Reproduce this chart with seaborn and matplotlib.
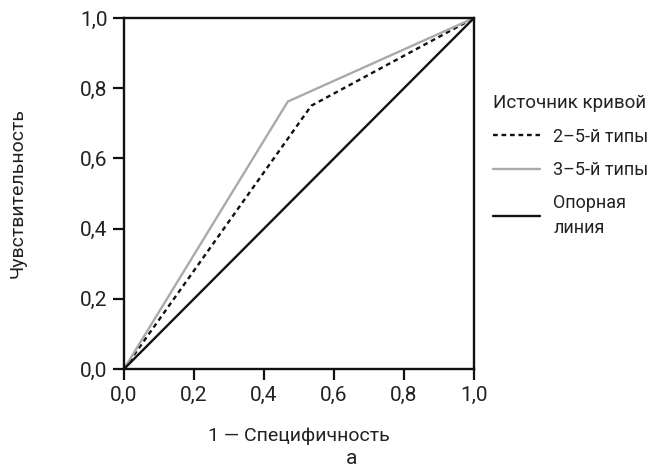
import matplotlib
matplotlib.use("Agg")
import matplotlib.pyplot as plt
import seaborn as sns
import pandas as pd
from matplotlib import font_manager

sns.set_theme(style="white")
fams = [f.name for f in font_manager.fontManager.ttflist]
fam = "Liberation Sans Narrow" if "Liberation Sans Narrow" in fams else "Roboto"
plt.rcParams["font.family"] = [fam, "DejaVu Sans"]

series_names = ["2–5-й типы", "3–5-й типы", "Опорная\nлиния"]
x_25 = [0.0, 0.535, 1.0]
y_25 = [0.0, 0.75, 1.0]
x_35 = [0.0, 0.468, 1.0]
y_35 = [0.0, 0.762, 1.0]
x_ref = [0.0, 1.0]
y_ref = [0.0, 1.0]
tick_vals = [0.0, 0.2, 0.4, 0.6, 0.8, 1.0]
tick_labels = ["0,0", "0,2", "0,4", "0,6", "0,8", "1,0"]

df = pd.concat([
    pd.DataFrame({"x": x_25, "y": y_25, "s": series_names[0]}),
    pd.DataFrame({"x": x_35, "y": y_35, "s": series_names[1]}),
    pd.DataFrame({"x": x_ref, "y": y_ref, "s": series_names[2]}),
])

fig = plt.figure(figsize=(6.66, 4.75), dpi=100)
ax = fig.add_axes([124/666, 1-369/475, 350/666, 351/475])
palette = {series_names[0]: "#111111", series_names[1]: "#aaaaaa", series_names[2]: "#111111"}
sns.lineplot(data=df, x="x", y="y", hue="s", style="s", palette=palette,
             dashes={series_names[0]: (2, 1.6), series_names[1]: "", series_names[2]: ""},
             sort=False, estimator=None, linewidth=1.7, ax=ax)
ax.set_xlim(0, 1)
ax.set_ylim(0, 1)
ax.set_xticks(tick_vals)
ax.set_xticklabels(tick_labels)
ax.set_yticks(tick_vals)
ax.set_yticklabels(tick_labels)
for sp in ax.spines.values():
    sp.set_color("#111111")
    sp.set_linewidth(1.7)
ax.tick_params(axis="both", direction="out", length=8, width=1.6, color="#111111",
               labelsize=15, labelcolor="#222222", pad=4, bottom=True, left=True)
ax.set_xlabel("1 — Специфичность", fontsize=14, color="#222222", labelpad=16)
ax.set_ylabel("Чувствительность", fontsize=14, color="#222222", labelpad=38)
fig.text(352/666, 1-458/475, "а", ha="center", va="center", fontsize=15, color="#222222")

leg = ax.legend(title="Источник кривой", loc="upper left", bbox_to_anchor=(479/666, 1-80/475),
                bbox_transform=fig.transFigure, frameon=False, fontsize=13, title_fontsize=13.5,
                handlelength=2.6, handletextpad=0.72, labelspacing=0.85, alignment="left",
                borderpad=0.3)
for t in leg.get_texts():
    t.set_color("#222222")
    t.set_linespacing(1.45)
leg.get_title().set_color("#222222")

fig.savefig("out.png", dpi=100)
